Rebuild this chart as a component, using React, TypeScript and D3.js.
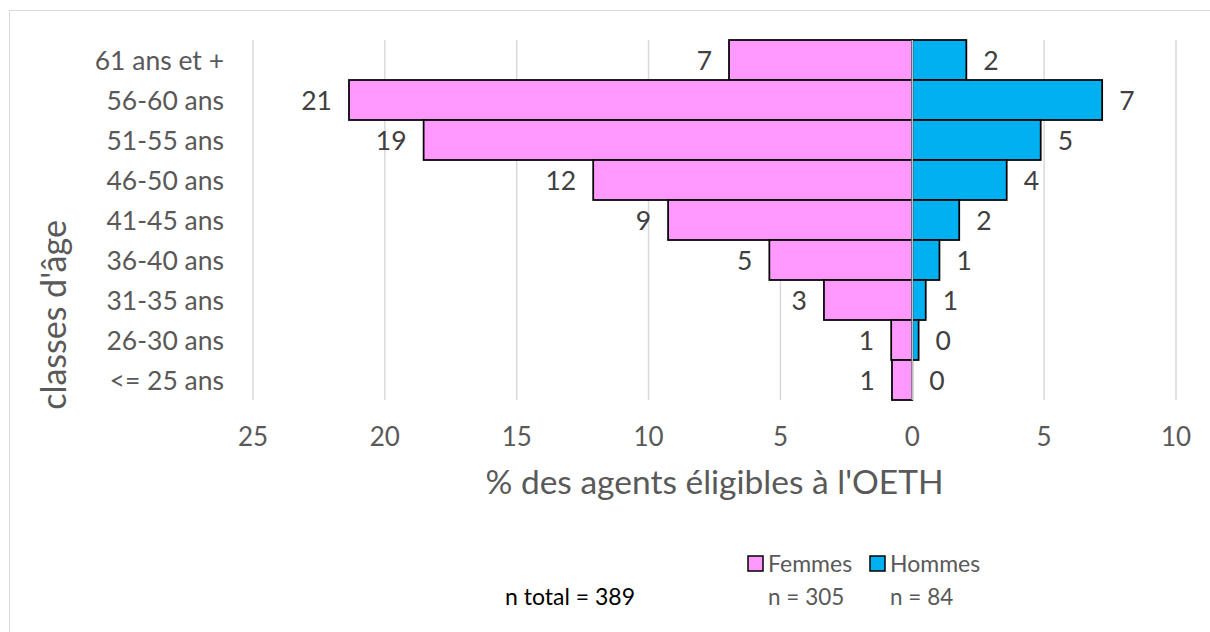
import React from "react";
import * as d3 from "d3";

const categories = ["61 ans et +", "56-60 ans", "51-55 ans", "46-50 ans", "41-45 ans", "36-40 ans", "31-35 ans", "26-30 ans", "<= 25 ans"];
const femmes = [6.95, 21.36, 18.53, 12.1, 9.26, 5.42, 3.35, 0.8, 0.77];
const hommes = [2.05, 7.2, 4.87, 3.58, 1.78, 1.03, 0.51, 0.24, 0];
const leftTicks = [25, 20, 15, 10, 5];
const rightTicks = [0, 5, 10];
const seriesNames = ["Femmes", "Hommes"];
const seriesCounts = ["n = 305", "n = 84"];
const totalLabel = "n total = 389";
const xTitle = "% des agents éligibles à l'OETH";
const yTitle = "classes d'âge";

const W = 1210;
const H = 632;
const FONT = "Lato, 'Open Sans', sans-serif";
const PINK = "#FF99FF";
const BLUE = "#00B0F0";

export default function App() {
  const x = d3.scaleLinear().domain([-25, 10]).range([253, 1176]);
  const y = d3.scaleBand<string>().domain(categories).range([40, 400]).padding(0);
  const x0 = x(0);
  const gridVals = [...leftTicks.map((v) => -v), ...rightTicks.filter((v) => v !== 0)];
  const tickVals = [...leftTicks.map((v) => -v), ...rightTicks];
  const fmt = (v: number) => String(Math.round(v));
  const colors = [PINK, BLUE];
  const legendX = [748, 870];

  return (
    <svg width={W} height={H} style={{ position: "absolute", left: 0, top: 0, background: "#fff" }} fontFamily={FONT}>
      <rect x={0} y={0} width={W} height={H} fill="#fff" />
      <rect x={9.5} y={10.5} width={W + 20} height={H + 20} fill="none" stroke="#d9d9d9" strokeWidth={1} />
      {gridVals.map((v) => (
        <line key={"g" + v} x1={x(v)} x2={x(v)} y1={40} y2={400} stroke="#d9d9d9" strokeWidth={1.5} />
      ))}
      {categories.map((c, i) => (
        <g key={c}>
          <rect x={x(-femmes[i])} y={y(c)!} width={x0 - x(-femmes[i])} height={y.bandwidth()} fill={PINK} stroke="#000" strokeWidth={1.75} />
          {hommes[i] > 0 && (
            <rect x={x0} y={y(c)!} width={x(hommes[i]) - x0} height={y.bandwidth()} fill={BLUE} stroke="#000" strokeWidth={1.75} />
          )}
        </g>
      ))}
      <line x1={x0} x2={x0} y1={40} y2={400} stroke="#bfbfbf" strokeWidth={1.5} />
      {categories.map((c, i) => (
        <g key={"l" + c} fontSize={26.5} fill="#404040">
          <text x={x(-femmes[i]) - 17} y={y(c)! + y.bandwidth() / 2} dy="0.36em" textAnchor="end">{fmt(femmes[i])}</text>
          <text x={x(hommes[i]) + 17} y={y(c)! + y.bandwidth() / 2} dy="0.36em" textAnchor="start">{fmt(hommes[i])}</text>
        </g>
      ))}
      {categories.map((c) => (
        <text key={"y" + c} x={224} y={y(c)! + y.bandwidth() / 2} dy="0.36em" textAnchor="end" fontSize={26.5} fill="#595959">{c}</text>
      ))}
      {tickVals.map((v) => (
        <text key={"t" + v} x={x(v)} y={446} textAnchor="middle" fontSize={26} fill="#595959">{String(Math.abs(v))}</text>
      ))}
      <text x={(x(-25) + x(10)) / 2} y={494} textAnchor="middle" fontSize={33.5} fill="#595959">{xTitle}</text>
      <text transform={`translate(66,315) rotate(-90)`} textAnchor="middle" fontSize={34} fill="#595959">{yTitle}</text>
      {seriesNames.map((s, i) => (
        <g key={s}>
          <rect x={legendX[i]} y={556} width={15} height={15} fill={colors[i]} stroke="#000" strokeWidth={1.5} />
          <text x={legendX[i] + 20} y={572} fontSize={23} fill="#595959">{s}</text>
          <text x={legendX[i] + 20} y={605} fontSize={22.5} fill="#595959">{seriesCounts[i]}</text>
        </g>
      ))}
      <text x={505} y={605} fontSize={23} fill="#000">{totalLabel}</text>
    </svg>
  );
}
